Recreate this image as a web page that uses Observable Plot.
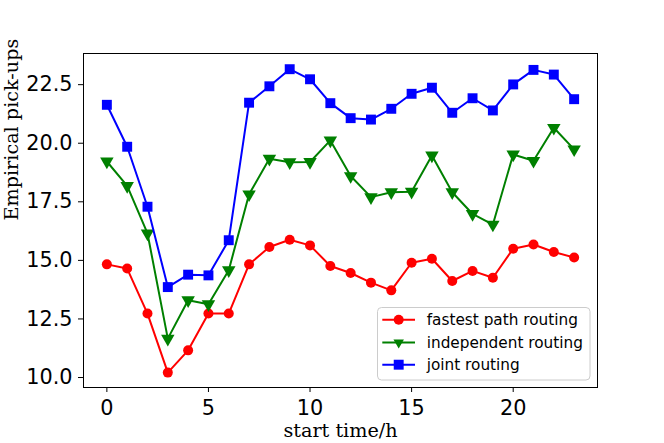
<!DOCTYPE html>
<html><head><meta charset="utf-8">
<script src="https://cdn.jsdelivr.net/npm/d3@7"></script>
<script src="https://cdn.jsdelivr.net/npm/@observablehq/plot@0.6"></script>
<style>
body{margin:0;background:#fff;}
#chart{position:relative;width:664px;height:443px;}
#legend{position:absolute;left:377px;top:307px;}
</style></head><body><div id="chart"></div>
<script>
const hours = [0,1,2,3,4,5,6,7,8,9,10,11,12,13,14,15,16,17,18,19,20,21,22,23];
const fastest = [14.83,14.65,12.73,10.21,11.16,12.73,12.73,14.83,15.57,15.88,15.64,14.76,14.46,14.05,13.72,14.90,15.07,14.12,14.55,14.26,15.50,15.68,15.36,15.12];
const independent = [19.22,18.18,16.15,11.66,13.30,13.13,14.58,17.82,19.34,19.19,19.20,20.12,18.60,17.70,17.91,17.93,19.48,17.91,16.98,16.53,19.52,19.25,20.66,19.74];
const joint = [21.64,19.85,17.29,13.86,14.39,14.36,15.86,21.73,22.43,23.16,22.73,21.71,21.07,21.01,21.47,22.11,22.37,21.30,21.92,21.40,22.51,23.13,22.93,21.88];
const seriesNames = ["fastest path routing","independent routing","joint routing"];
const xTicks = [0,5,10,15,20];
const yTicks = [10,12.5,15,17.5,20,22.5];
const xLabel = "start time/h";
const yLabel = "Empirical pick-ups";

const styles = [
  {color:"#ff0000", symbol:"circle", r:5, rotate:0},
  {color:"#008000", symbol:"triangle", r:5, rotate:180},
  {color:"#0000ff", symbol:"square", r:5.6, rotate:0}
];
const allValues = [fastest, independent, joint];

const marks = [];
allValues.forEach((vals, k) => {
  const s = styles[k];
  const data = hours.map((h,i)=>({h, v: vals[i]}));
  marks.push(Plot.line(data,{x:"h",y:"v",stroke:s.color,strokeWidth:2}));
  marks.push(Plot.dot(data,{x:"h",y:"v",fill:s.color,stroke:"none",symbol:s.symbol,r:s.r,rotate:s.rotate}));
});

const chart = Plot.plot({
  width:664, height:443,
  marginLeft:83, marginRight:67, marginTop:53, marginBottom:56,
  style:{background:"white", color:"black", fontFamily:"DejaVu Sans", overflow:"visible"},
  x:{domain:[-1.15,24.15]},
  y:{domain:[9.574,23.83]},
  marks:[
    Plot.axisX({ticks:xTicks, tickSize:5, tickPadding:8, fontSize:20.8, fontFamily:"DejaVu Sans", label:null, tickFormat:d=>String(d), stroke:"black", fill:"black"}),
    Plot.axisY({ticks:yTicks, tickSize:5, tickPadding:6, fontSize:20.8, fontFamily:"DejaVu Sans", label:null, tickFormat:d=>d.toFixed(1), stroke:"black", fill:"black"}),
    ...marks,
    Plot.frame({stroke:"black", strokeWidth:1}),
    Plot.text([xLabel],{text:d=>d, frameAnchor:"bottom", dy:49, fontFamily:"DejaVu Serif", fontSize:19.2, fill:"black"}),
    Plot.text([yLabel],{text:d=>d, frameAnchor:"left", dx:-72, rotate:-90, fontFamily:"DejaVu Serif", fontSize:19.2, fill:"black"})
  ]
});
document.getElementById("chart").appendChild(chart);

// legend
const lg = d3.create("svg").attr("id","legend").attr("width",215).attr("height",76);
lg.append("rect").attr("x",0.5).attr("y",0.5).attr("width",212.5).attr("height",72.5).attr("rx",4)
  .attr("fill","white").attr("fill-opacity",0.8).attr("stroke","#cccccc");
const rowY = [12.7,35.4,57.7];
seriesNames.forEach((name,k)=>{
  const s = styles[k];
  const g = lg.append("g").attr("transform",`translate(0,${rowY[k]})`);
  g.append("line").attr("x1",5.3).attr("x2",38).attr("y1",0).attr("y2",0).attr("stroke",s.color).attr("stroke-width",2);
  const sym = {circle:d3.symbolCircle, triangle:d3.symbolTriangle2, square:d3.symbolSquare}[s.symbol];
  g.append("path").attr("d",d3.symbol(sym, Math.PI*s.r*s.r)()).attr("fill",s.color)
    .attr("transform",`translate(21.7,0) rotate(${s.rotate})`);
  g.append("text").attr("x",49.7).attr("y",0).attr("dy","0.35em").attr("font-family","DejaVu Sans")
    .attr("font-size","15.3px").attr("fill","black").text(name);
});
document.getElementById("chart").appendChild(lg.node());
</script></body></html>
